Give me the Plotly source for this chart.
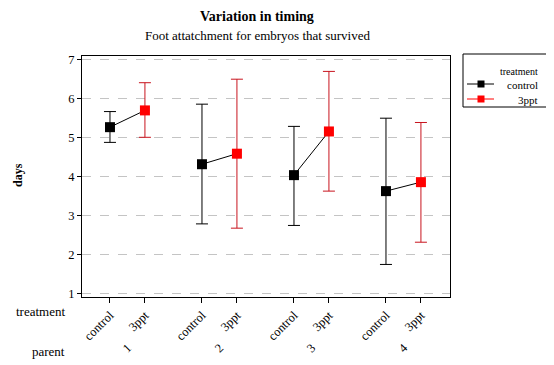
import plotly.graph_objects as go

# data
parents = ["1", "2", "3", "4"]
treatments = ["control", "3ppt"]
control_mean = [5.26, 4.31, 4.03, 3.62]
control_upper = [5.66, 5.85, 5.28, 5.49]
control_lower = [4.87, 2.78, 2.74, 1.74]
ppt_mean = [5.69, 4.58, 5.15, 3.85]
ppt_upper = [6.40, 6.49, 6.69, 5.38]
ppt_lower = [5.00, 2.67, 3.62, 2.31]

FONT = "Liberation Serif, Times New Roman, serif"
# the page body has an 8px margin, so the figure is made 8px smaller
PAD = 8
W, H = 554 - PAD, 365 - PAD
L, R, T, B = 82 - PAD, 104, 56 - PAD, 68
PW, PH = W - L - R, H - T - B
OFFSET = 0.38  # position of 3ppt relative to control within a parent group


def px_x(x):
    # window pixel -> paper x
    return (x - PAD - L) / PW


def px_y(y):
    # window pixel -> paper y
    return (H - B - (y - PAD)) / PH


x_ctrl = [i for i in range(len(parents))]
x_ppt = [i + OFFSET for i in range(len(parents))]

fig = go.Figure()

# connecting lines inside each parent group
lx, ly = [], []
for i in range(len(parents)):
    lx += [x_ctrl[i], x_ppt[i], None]
    ly += [control_mean[i], ppt_mean[i], None]
fig.add_trace(go.Scatter(x=lx, y=ly, mode="lines",
                         line=dict(color="black", width=1),
                         hoverinfo="skip", showlegend=False))

fig.add_trace(go.Scatter(
    x=x_ctrl, y=control_mean, mode="markers", name="control",
    marker=dict(symbol="square", size=10, color="black"),
    error_y=dict(type="data", symmetric=False,
                 array=[u - m for u, m in zip(control_upper, control_mean)],
                 arrayminus=[m - l for m, l in zip(control_mean, control_lower)],
                 color="black", thickness=1, width=6),
    showlegend=False))

fig.add_trace(go.Scatter(
    x=x_ppt, y=ppt_mean, mode="markers", name="3ppt",
    marker=dict(symbol="square", size=10, color="#ff0000"),
    error_y=dict(type="data", symmetric=False,
                 array=[u - m for u, m in zip(ppt_upper, ppt_mean)],
                 arrayminus=[m - l for m, l in zip(ppt_mean, ppt_lower)],
                 color="#c8141e", thickness=1, width=6),
    showlegend=False))

tickvals, ticktext = [], []
for i in range(len(parents)):
    tickvals += [x_ctrl[i], x_ppt[i]]
    ticktext += treatments

fig.update_layout(
    width=W, height=H,
    margin=dict(l=L, r=R, t=T, b=B),
    paper_bgcolor="white", plot_bgcolor="white",
    font=dict(family=FONT, size=12, color="black"),
    xaxis=dict(range=[-0.304, 3.696], tickvals=tickvals, ticktext=ticktext,
               tickangle=-45, ticks="outside", ticklen=5, tickcolor="black",
               showline=True, linecolor="black", linewidth=1, mirror=True,
               showgrid=False, zeroline=False, tickfont=dict(size=12.5)),
    yaxis=dict(range=[0.905, 7.085], tickvals=[1, 2, 3, 4, 5, 6, 7],
               ticks="outside", ticklen=4, tickcolor="black",
               showline=True, linecolor="black", linewidth=1, mirror=True,
               showgrid=True, gridcolor="#c4c4c4", griddash="dash",
               zeroline=False, tickfont=dict(size=12.5)),
)

ann = [
    dict(text="<b>Variation in timing</b>", x=px_x(257), y=px_y(17),
         font=dict(size=14)),
    dict(text="Foot attatchment for embryos that survived", x=px_x(257),
         y=px_y(35), font=dict(size=13)),
    dict(text="<b>days</b>", x=px_x(18), y=px_y(175), textangle=-90,
         font=dict(size=12)),
    dict(text="treatment", x=px_x(67), y=px_y(311), xanchor="right",
         font=dict(size=13)),
    dict(text="parent", x=px_x(67), y=px_y(351), xanchor="right",
         font=dict(size=13)),
]
for i, p in enumerate(parents):
    ann.append(dict(text=p, x=(x_ctrl[i] + x_ppt[i]) / 2, xref="x",
                    y=px_y(348), yref="paper", textangle=-45,
                    font=dict(size=12.5)))

# legend drawn by hand (title and labels right-aligned like the reference)
ann.append(dict(text="treatment", x=px_x(540), y=px_y(71), xanchor="right",
                font=dict(size=10)))
ann.append(dict(text="control", x=px_x(540), y=px_y(85), xanchor="right",
                font=dict(size=11)))
ann.append(dict(text="3ppt", x=px_x(540), y=px_y(100), xanchor="right",
                font=dict(size=11)))

for a in ann:
    a.setdefault("xref", "paper")
    a.setdefault("yref", "paper")
    a.setdefault("xanchor", "center")
    a["yanchor"] = "middle"
    a["showarrow"] = False
    fig.add_annotation(**a)

shapes = [
    dict(type="rect", x0=px_x(463), x1=px_x(548), y0=px_y(107), y1=px_y(54),
         line=dict(color="black", width=1)),
]
for yy, col in [(84, "black"), (99, "#ff0000")]:
    shapes.append(dict(type="line", x0=px_x(467), x1=px_x(494),
                       y0=px_y(yy), y1=px_y(yy), line=dict(color=col, width=1)))
    shapes.append(dict(type="rect", x0=px_x(477.5), x1=px_x(484.5),
                       y0=px_y(yy + 3.5), y1=px_y(yy - 3.5),
                       fillcolor=col, line=dict(width=0)))
for s in shapes:
    s["xref"] = "paper"
    s["yref"] = "paper"
    fig.add_shape(**s)

fig.write_html("out.html")
